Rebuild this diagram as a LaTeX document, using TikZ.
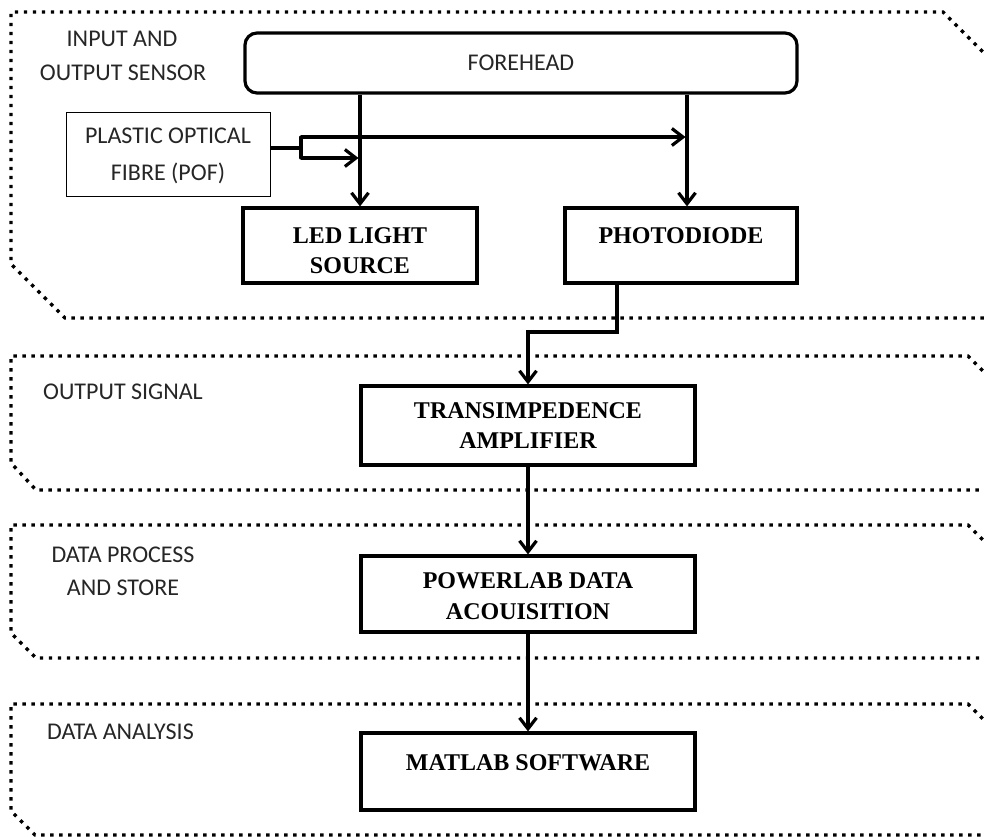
\documentclass[tikz,border=0pt]{standalone}
\usepackage{fontspec}
\setmainfont{Liberation Serif}
\newfontfamily\calfont{Carlito}
\usetikzlibrary{arrows.meta}
\begin{document}
\begin{tikzpicture}[x=1pt,y=-1pt,
  framestyle/.style={line width=3.4pt, dash pattern=on 3.4pt off 5.6pt, line cap=butt},
  boxstyle/.style={draw, line width=3.2pt, inner sep=0pt},
  sanslbl/.style={font=\calfont\fontsize{24}{28}\selectfont, text=black!85, inner sep=0pt, anchor=base},
  boldlbl/.style={font=\bfseries\fontsize{24}{28}\selectfont, inner sep=0pt, anchor=base},
  conn/.style={line width=3.2pt},
  arr/.style={line width=3.2pt, -{Straight Barb[length=11pt,width=17pt]}}
]
\useasboundingbox (0,0) rectangle (984,836);
\fill[white] (0,0) rectangle (984,836);
% frames
\begin{scope}
\clip (0,0) rectangle (984,836);
\draw[framestyle] (1040,109) -- (943,12) -- (11,12) -- (11,264) -- (65,318) -- (1040,318);
\draw[framestyle] (1040,428) -- (968,356) -- (11,356) -- (11,463) -- (36,490) -- (1040,490);
\draw[framestyle] (1040,597) -- (968,525) -- (11,525) -- (11,633) -- (36,658) -- (1040,658);
\draw[framestyle] (1040,776) -- (968,704) -- (11,704) -- (11,811) -- (35,835) -- (1040,835);
\end{scope}
% boxes
\node[boxstyle, rounded corners=12pt, minimum width=552pt, minimum height=60pt] (fh) at (521,63) {};
\node[draw, line width=1pt, inner sep=0pt, minimum width=204pt, minimum height=84pt] (pof) at (168,154) {};
\node[boxstyle, minimum width=234pt, minimum height=75pt] (led) at (360,245.5) {};
\node[boxstyle, minimum width=232pt, minimum height=75pt] (pd) at (681,245.5) {};
\node[boxstyle, minimum width=334pt, minimum height=79pt] (tia) at (528,425.5) {};
\node[boxstyle, minimum width=334pt, minimum height=76pt] (pl) at (528,594) {};
\node[boxstyle, minimum width=334pt, minimum height=77pt] (ml) at (528,771.5) {};
% texts
\node[sanslbl] (t1) at (122,46) {INPUT AND};
\node[sanslbl] (t2) at (123,80) {OUTPUT SENSOR};
\node[sanslbl] (t3) at (521,70.5) {FOREHEAD};
\node[sanslbl] (t4) at (168,143.5) {PLASTIC OPTICAL};
\node[sanslbl] (t5) at (168,180) {FIBRE (POF)};
\node[sanslbl, anchor=base west] (t6) at (43,399.5) {OUTPUT SIGNAL};
\node[sanslbl] (t7) at (123,562.5) {DATA PROCESS};
\node[sanslbl] (t8) at (123,595.5) {AND STORE};
\node[sanslbl, anchor=base west] (t9) at (47,739.5) {DATA ANALYSIS};
\node[boldlbl] (b1) at (360,243.5) {LED LIGHT};
\node[boldlbl] (b2) at (360,273.5) {SOURCE};
\node[boldlbl] (b3) at (681,243.5) {PHOTODIODE};
\node[boldlbl] (b4) at (528,418.5) {TRANSIMPEDENCE};
\node[boldlbl] (b5) at (528,448.5) {AMPLIFIER};
\node[boldlbl] (b6) at (528,588.5) {POWERLAB DATA};
\node[boldlbl] (b7) at (528,619.5) {ACOUISITION};
\node[boldlbl] (b8) at (528,770.5) {MATLAB SOFTWARE};
% connectors
\coordinate (pdx) at ([xshift=6pt]pd.north);
\draw[arr] (led.north |- fh.south) -- (led.north);
\draw[arr] (pdx |- fh.south) -- (pdx);
\coordinate (pofo) at ([yshift=6pt]pof.east);
\coordinate (jn) at (301,148);
\coordinate (jt) at (301,137);
\coordinate (jb) at (301,158);
\draw[conn] (pofo) -- (jn);
\draw[conn, line cap=round] (jt) -- (jb);
\draw[arr] (jt) -- ([xshift=-1.5pt]pdx |- jt);
\draw[arr] (jb) -- ([xshift=-1.5pt]led.north |- jb);
\coordinate (pdo) at ([xshift=-64pt]pd.south);
\draw[arr] (pdo) -- (pdo |- 0,332) -- (tia.north |- 0,332) -- (tia.north);
\draw[arr] (tia.south) -- (pl.north);
\draw[arr] (pl.south) -- (ml.north);
\end{tikzpicture}
\end{document}
